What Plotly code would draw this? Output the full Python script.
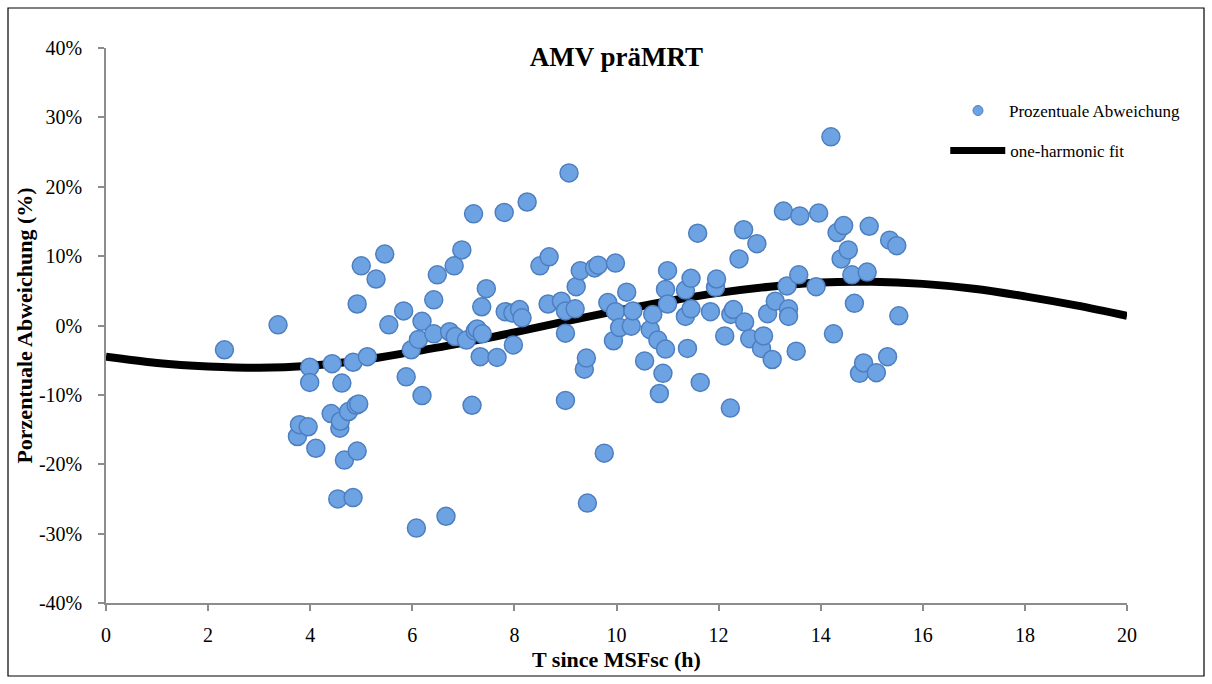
import plotly.graph_objects as go

# ---- data ----
t_hours = [
    2.32, 3.37, 3.75, 3.79, 3.96, 3.99, 3.99, 4.11, 4.41, 4.43, 4.54, 4.58, 4.59, 4.62,
    4.67, 4.75, 4.84, 4.84, 4.90, 4.92, 4.92, 4.95, 5.00, 5.12, 5.29, 5.46, 5.54, 5.83,
    5.88, 5.98, 6.08, 6.12, 6.19, 6.19, 6.42, 6.42, 6.49, 6.66, 6.73, 6.82, 6.84, 6.97,
    7.06, 7.17, 7.20, 7.23, 7.27, 7.33, 7.36, 7.37, 7.45, 7.66, 7.80, 7.82, 7.97, 7.98,
    8.10, 8.15, 8.25, 8.50, 8.66, 8.68, 8.92, 9.00, 9.00, 9.00, 9.07, 9.19, 9.21, 9.29,
    9.37, 9.41, 9.43, 9.57, 9.64, 9.76, 9.83, 9.94, 9.98, 9.98, 10.06, 10.20, 10.29,
    10.32, 10.55, 10.66, 10.71, 10.81, 10.84, 10.91, 10.96, 10.96, 11.00, 11.00, 11.35,
    11.35, 11.39, 11.46, 11.46, 11.59, 11.64, 11.84, 11.94, 11.96, 12.12, 12.23, 12.24,
    12.29, 12.40, 12.49, 12.51, 12.61, 12.75, 12.84, 12.88, 12.96, 13.05, 13.11, 13.27,
    13.34, 13.37, 13.37, 13.52, 13.57, 13.59, 13.91, 13.96, 14.20, 14.25, 14.32, 14.40,
    14.45, 14.54, 14.61, 14.66, 14.76, 14.84, 14.91, 14.95, 15.09, 15.31, 15.35, 15.49,
    15.53,
]
abweichung_pct = [
    -3.5, 0.1, -16.0, -14.3, -14.6, -6.0, -8.2, -17.7, -12.7, -5.5, -25.0, -14.8, -13.8, -8.3,
    -19.4, -12.4, -5.3, -24.8, -11.5, 3.1, -18.1, -11.3, 8.6, -4.5, 6.7, 10.3, 0.1, 2.1,
    -7.4, -3.5, -29.2, -2.0, 0.6, -10.1, 3.7, -1.2, 7.3, -27.5, -0.9, 8.6, -1.6, 10.9,
    -2.1, -11.5, 16.1, -0.8, -0.5, -4.5, 2.7, -1.2, 5.3, -4.6, 16.3, 2.0, 1.8, -2.8,
    2.3, 1.1, 17.8, 8.6, 3.1, 9.9, 3.5, 2.1, -1.1, -10.8, 22.0, 2.4, 5.6, 7.9,
    -6.3, -4.7, -25.6, 8.3, 8.7, -18.4, 3.3, -2.2, 9.0, 2.0, -0.3, 4.8, -0.1,
    2.1, -5.1, -0.6, 1.6, -2.1, -9.8, -6.9, 5.2, -3.4, 7.9, 3.1, 5.1,
    1.3, -3.3, 6.8, 2.4, 13.3, -8.2, 2.0, 5.5, 6.7, -1.5, -11.9, 1.6,
    2.3, 9.6, 13.8, 0.5, -1.9, 11.8, -3.3, -1.5, 1.7, -4.9, 3.5, 16.5,
    5.7, 2.4, 1.3, -3.7, 7.3, 15.8, 5.6, 16.2, 27.2, -1.2, 13.4, 9.6,
    14.4, 10.9, 7.3, 3.2, -6.9, -5.4, 7.7, 14.3, -6.8, -4.5, 12.3, 11.5,
    1.4,
]

fit_t = [0, 1, 2, 3, 4, 5, 6, 7, 8, 9, 10, 11, 12, 13, 14, 15, 16, 17, 18, 19, 20]
fit_pct = [-4.5, -5.4, -5.9, -6.1, -5.8, -5.0, -3.8, -2.5, -1.0, 0.6, 2.1, 3.5, 4.7,
           5.6, 6.2, 6.3, 6.0, 5.3, 4.2, 2.9, 1.4]

x_ticks = [0, 2, 4, 6, 8, 10, 12, 14, 16, 18, 20]
y_ticks = [-40, -30, -20, -10, 0, 10, 20, 30, 40]

FONT = "Liberation Serif"
MARKER_COLOR = "#6ea3e3"
MARKER_LINE = "#4d7fc0"

fig = go.Figure()

# fit line (behind markers)
fig.add_trace(go.Scatter(
    x=fit_t, y=fit_pct, mode="lines", line=dict(color="black", width=8, shape="spline"),
    showlegend=False, hoverinfo="skip"))

# data points
fig.add_trace(go.Scatter(
    x=t_hours, y=abweichung_pct, mode="markers",
    marker=dict(size=18, color=MARKER_COLOR, line=dict(color=MARKER_LINE, width=1.5)),
    showlegend=False))

# legend entries
fig.add_trace(go.Scatter(
    x=[None], y=[None], mode="markers", name="Prozentuale Abweichung",
    marker=dict(size=10, color=MARKER_COLOR, line=dict(color=MARKER_LINE, width=1)),
    legend="legend"))
fig.add_trace(go.Scatter(
    x=[None], y=[None], mode="lines", name="one-harmonic fit",
    line=dict(color="black", width=7), legend="legend2"))

axis_common = dict(
    showgrid=False, zeroline=False, showline=True, linecolor="#8c8c8c", linewidth=1.5,
    ticks="outside", tickcolor="#8c8c8c", ticklen=6, tickwidth=1.5,
    tickfont=dict(family=FONT, size=20, color="black"),
)

fig.update_layout(
    width=1212, height=684,
    margin=dict(l=106, r=85, t=48, b=81),
    paper_bgcolor="white", plot_bgcolor="white",
    font=dict(family=FONT, color="black"),
    title=dict(text="<b>AMV präMRT</b>", x=0.5, xanchor="center", y=0.918, yanchor="middle",
               xref="paper", font=dict(family=FONT, size=27, color="black")),
    xaxis=dict(range=[0, 20], tickvals=x_ticks, ticktext=[str(v) for v in x_ticks],
               ticklabelstandoff=7,
               title=dict(text="<b>T since MSFsc (h)</b>", font=dict(family=FONT, size=22),
                          standoff=7),
               **axis_common),
    yaxis=dict(range=[-40, 40], tickvals=y_ticks, ticktext=[f"{v}%" for v in y_ticks],
               ticklabelstandoff=12,
               title=dict(text="<b>Porzentuale Abweichung (%)</b>", font=dict(family=FONT, size=22),
                          standoff=0),
               **axis_common),
    legend=dict(x=0.8237, y=0.8865, xanchor="left", yanchor="middle",
                font=dict(family=FONT, size=17), bgcolor="rgba(0,0,0,0)", itemwidth=52),
    legend2=dict(x=0.822, y=0.8144, xanchor="left", yanchor="middle",
                 font=dict(family=FONT, size=17), bgcolor="rgba(0,0,0,0)", itemwidth=55),
    shapes=[dict(type="rect", xref="paper", yref="paper",
                 x0=(8 - 106) / 1021, x1=(1204 - 106) / 1021,
                 y0=(603 - 676) / 555, y1=(603 - 8) / 555,
                 line=dict(color="black", width=1.2), fillcolor="rgba(0,0,0,0)", layer="below")],
)

fig.write_html("out.html")
